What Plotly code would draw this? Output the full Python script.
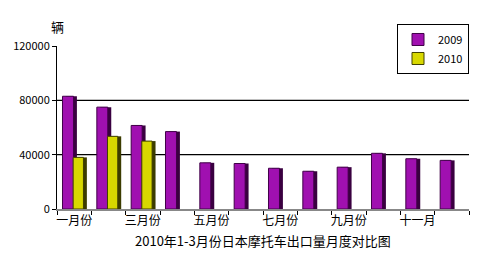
import plotly.graph_objects as go

months = ["一月份", "二月份", "三月份", "四月份", "五月份", "六月份",
          "七月份", "八月份", "九月份", "十月份", "十一月", "十二月"]
tick_labels = ["一月份", "", "三月份", "", "五月份", "", "七月份", "", "九月份", "", "十一月", ""]
y2009 = [83000, 75000, 61500, 57000, 34000, 33500, 30000, 27800, 30800, 41000, 37000, 35800]
y2010 = [38000, 53500, 50000, None, None, None, None, None, None, None, None, None]
y_ticks = [0, 40000, 80000, 120000]

font = "Noto Sans CJK SC, SimSun, sans-serif"
fig = go.Figure()

# side faces (3D look)
fig.add_trace(go.Bar(x=months, y=y2009, offset=-0.24, width=0.32, marker=dict(color="#3a0040", line=dict(width=0)),
                     showlegend=False, hoverinfo="skip"))
fig.add_trace(go.Bar(x=months, y=y2009, offset=-0.34, width=0.32, name="2009",
                     marker=dict(color="#a010b0", line=dict(color="#400048", width=1))))
fig.add_trace(go.Bar(x=months, y=y2010, offset=0.07, width=0.3, marker=dict(color="#3c3c00", line=dict(width=0)),
                     showlegend=False, hoverinfo="skip"))
fig.add_trace(go.Bar(x=months, y=y2010, offset=-0.03, width=0.3, name="2010",
                     marker=dict(color="#d8d800", line=dict(color="#404000", width=1))))

shapes = [dict(type="line", xref="paper", x0=0, x1=1, yref="y", y0=v, y1=v,
               line=dict(color="black", width=1.2), layer="below") for v in y_ticks[1:-1]]

fig.update_layout(
    width=492, height=263, barmode="overlay",
    margin=dict(l=57, r=23, t=46, b=54),
    paper_bgcolor="white", plot_bgcolor="white",
    font=dict(family=font, size=12, color="black"),
    shapes=shapes,
    legend=dict(x=1.0, y=1.135, xanchor="right", yanchor="top", bordercolor="black", borderwidth=1,
                bgcolor="white", font=dict(size=11), itemwidth=30, tracegroupgap=0,
                traceorder="normal"),
    xaxis=dict(type="category", tickvals=months, ticktext=tick_labels, tickson="boundaries",
               ticks="outside", ticklen=4, tickcolor="black", showline=True, linecolor="#888888",
               linewidth=2, showgrid=False, range=[-0.5, 11.5], tickangle=0, tickfont=dict(size=12)),
    yaxis=dict(range=[0, 120000], tickvals=y_ticks, ticktext=[str(v) for v in y_ticks], ticks="outside",
               ticklen=4, tickcolor="black", showline=True, linecolor="black", linewidth=1,
               showgrid=False, zeroline=False, tickfont=dict(size=11)),
    annotations=[
        dict(text="辆", xref="paper", yref="paper", x=0, y=1.117, xanchor="center", yanchor="middle",
             showarrow=False, font=dict(size=13)),
        dict(text="2010年1-3月份日本摩托车出口量月度对比图", xref="paper", yref="paper", x=0.5, y=-0.196,
             xanchor="center", yanchor="middle", showarrow=False, font=dict(size=13)),
    ],
)
fig.write_html("out.html")
